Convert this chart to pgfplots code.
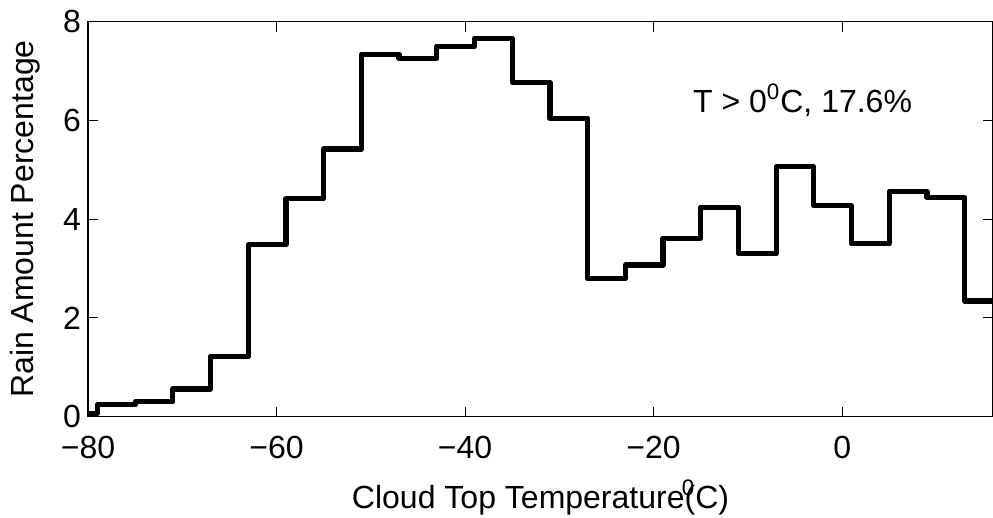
\documentclass[border=0pt]{standalone}
\usepackage{fontspec}
\setmainfont{Liberation Sans}
\usepackage{pgfplots}
\pgfplotsset{compat=1.18}

\begin{document}
\begin{tikzpicture}
\begin{axis}[
  scale only axis,
  width=452.5pt, height=197.5pt,
  xmin=-80, xmax=16, ymin=0, ymax=8,
  xtick={-80,-60,-40,-20,0},
  xticklabels={−80,−60,−40,−20,0},
  ytick={0,2,4,6,8},
  tick align=inside,
  major tick length=5pt,
  tick style={line width=0.5pt, black},
  axis line style={line width=0.6pt},
  font=\fontsize{16}{19}\selectfont,
  tick label style={font=\fontsize{16}{19}\selectfont},
  /pgf/number format/assume math mode=true,
  xticklabel style={yshift=-6pt},
  xlabel={Cloud Top Temperature(\llap{\textsuperscript{0}}C)},
  ylabel={Rain Amount Percentage},
  xlabel style={at={(axis description cs:0.5,-0.205)}, anchor=center},
  ylabel style={at={(axis description cs:-0.0696,0.5)}, anchor=center},
]
% rain amount share per 4-degree cloud-top temperature bin (left bin edges)
\addplot[const plot, black, line width=2.6pt, line join=round] coordinates {
  (-83,0.07) (-79,0.24) (-75,0.30) (-71,0.56) (-67,1.22) (-63,3.48)
  (-59,4.41) (-55,5.42) (-51,7.34) (-47,7.26) (-43,7.50) (-39,7.66)
  (-35,6.77) (-31,6.04) (-27,2.79) (-23,3.07) (-19,3.61) (-15,4.24)
  (-11,3.30) (-7,5.06) (-3,4.27) (1,3.50) (5,4.56) (9,4.44)
  (13,2.34) (17,2.34)
};
\node at (axis cs:-4.2,6.41) {T > 0\textsuperscript{0}C, 17.6\%};
\end{axis}
\pgfresetboundingbox
\path[use as bounding box]
  ([shift={(-44pt,-50.6pt)}]current axis.south west)
  rectangle ([shift={(0pt,10.8pt)}]current axis.north east);
\end{tikzpicture}
\end{document}
